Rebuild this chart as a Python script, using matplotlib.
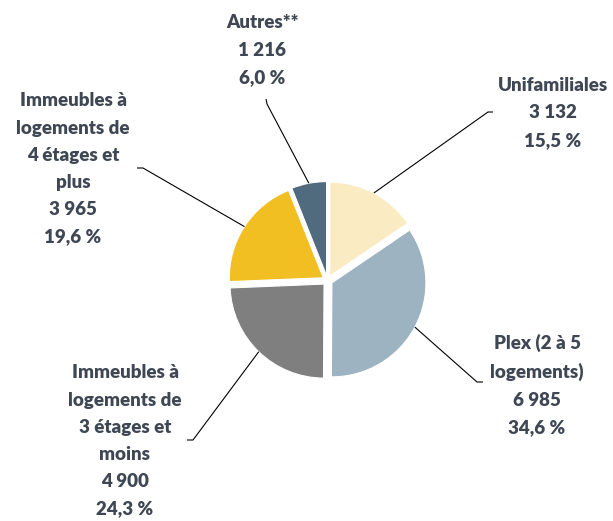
import numpy as np
import matplotlib
matplotlib.use('Agg')
import matplotlib.pyplot as plt

# logements par type de bâtiment
categories = ['Unifamiliales', 'Plex (2 à 5\nlogements)',
              'Immeubles à\nlogements de\n3 étages et\nmoins',
              'Immeubles à\nlogements de\n4 étages et\nplus', 'Autres**']
counts = [3132, 6985, 4900, 3965, 1216]
counts_txt = ['3 132', '6 985', '4 900', '3 965', '1 216']
pct_txt = ['15,5 %', '34,6 %', '24,3 %', '19,6 %', '6,0 %']

colors = ['#FBEBC3', '#9DB3C2', '#7F7F7F', '#F2BF22', '#4F6B7D']
text_color = '#3E4753'

# label layout, in pixel coords (y down)
label_pos = [(553, 113), (537, 385), (125, 441), (73, 169), (262, 50)]
elbows = [[(493, 112), (488, 112)],
          [(483, 382), (477, 382)],
          [(187, 440), (193, 440)],
          [(137, 168), (143, 168)],
          [(266, 99), (267, 104)]]

W, H = 613, 521
fig = plt.figure(figsize=(W / 100, H / 100), dpi=100)
ax = fig.add_axes([0, 0, 1, 1])

# y axis is inverted, so start at -90 and go counterclockwise in data
# space to get a clockwise pie starting at 12 o'clock
# (explode is in data units here, i.e. pixels)
wedges, _ = ax.pie(counts, colors=colors, startangle=-90, counterclock=True,
                   center=(327.5, 280.5), radius=94,
                   explode=[5] * len(counts),
                   wedgeprops=dict(edgecolor='white', linewidth=0.8))

ax.set_xlim(0, W)
ax.set_ylim(H, 0)
ax.set_aspect('equal')
ax.axis('off')

for w, name, n, p, pos, elb in zip(wedges, categories, counts_txt, pct_txt,
                                   label_pos, elbows):
    mid = np.deg2rad((w.theta1 + w.theta2) / 2)
    cx, cy = w.center
    ax_pt = (cx + w.r * np.cos(mid), cy + w.r * np.sin(mid))
    pts = elb + [ax_pt]
    ax.plot([q[0] for q in pts], [q[1] for q in pts], color='black', lw=0.8,
            solid_capstyle='butt')
    ax.text(pos[0], pos[1], f'{name}\n{n}\n{p}', ha='center', va='center',
            fontsize=13.5, fontweight='heavy', family=['Lato', 'DejaVu Sans'],
            color=text_color, linespacing=1.73)

fig.savefig('out.png', dpi=100)
